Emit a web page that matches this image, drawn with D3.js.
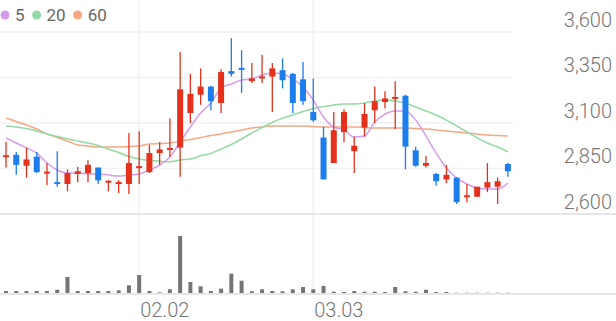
<!DOCTYPE html>
<html>
<head>
<meta charset="utf-8">
<script src="https://cdn.jsdelivr.net/npm/d3@7"></script>
<style>
  html, body { margin: 0; padding: 0; background: #fff; }
  svg { display: block; font-family: Roboto, 'Noto Sans', sans-serif; }
</style>
</head>
<body>
<div class="graph"></div>
<script>
const opens  = [2915, 2925, 2865, 2915, 2825, 2775, 2765, 2820, 2825, 2855, 2775, 2765, 2765, 2855, 2830, 2935, 2955, 2965, 3155, 3255, 3300, 3210, 3385, 3400, 3330, 3345, 3355, 3390, 3370, 3340, 3160, 3020, 2880, 3050, 2945, 3075, 3170, 3215, 3235, 3250, 2950, 2865, 2820, 2790, 2800, 2695, 2695, 2745, 2750, 2875];
const highs  = [2995, 2940, 2965, 2940, 2880, 2945, 2845, 2860, 2895, 2855, 2785, 2785, 3045, 3055, 2980, 2995, 3125, 3490, 3370, 3400, 3305, 3395, 3565, 3500, 3430, 3475, 3430, 3455, 3375, 3435, 3345, 3080, 3160, 3175, 3025, 3210, 3300, 3275, 3330, 3255, 2970, 2920, 2825, 2870, 2800, 2765, 2750, 2880, 2800, 2880];
const lows   = [2855, 2815, 2800, 2825, 2760, 2750, 2725, 2775, 2775, 2765, 2725, 2715, 2710, 2765, 2825, 2870, 2915, 2805, 3100, 3200, 3170, 3155, 3355, 3265, 3320, 3320, 3160, 3290, 3155, 3200, 3105, 2790, 2880, 2995, 2825, 3025, 3100, 3180, 3065, 2845, 2860, 2855, 2755, 2770, 2655, 2665, 2695, 2720, 2655, 2805];
const closes = [2920, 2870, 2900, 2830, 2830, 2765, 2825, 2835, 2870, 2785, 2780, 2775, 2880, 2860, 2935, 2955, 2960, 3285, 3260, 3300, 3220, 3380, 3370, 3395, 3345, 3355, 3400, 3335, 3210, 3220, 3115, 2790, 3060, 3160, 2975, 3150, 3220, 3235, 3240, 2970, 2865, 2880, 2780, 2815, 2665, 2700, 2750, 2775, 2780, 2835];
const volumes = [20000, 20000, 20000, 20000, 20000, 33000, 160000, 20000, 20000, 20000, 20000, 27000, 77000, 180000, 20000, 7000, 37000, 570000, 110000, 67000, 20000, 43000, 193000, 123000, 17000, 37000, 20000, 17000, 37000, 60000, 37000, 70000, 13000, 10000, 20000, 13000, 13000, 10000, 60000, 17000, 13000, 33000, 10000, 10000, 3000, 3000, 3000, 3000, 3000, 3000];

const ma5  = [3018, 2990, 2963, 2935, 2880, 2842, 2825, 2825, 2820, 2820, 2814, 2809, 2814, 2820, 2842, 2869, 2913, 2996, 3078, 3155, 3210, 3292, 3314, 3336, 3342, 3364, 3375, 3369, 3342, 3298, 3226, 3133, 3078, 3062, 3023, 3029, 3105, 3149, 3166, 3166, 3116, 3029, 2935, 2853, 2798, 2765, 2743, 2737, 2737, 2770];
const ma20 = [3084, 3078, 3070, 3056, 3040, 3026, 3012, 3001, 2990, 2976, 2957, 2938, 2916, 2902, 2894, 2890, 2887, 2897, 2902, 2920, 2933, 2957, 2982, 3012, 3045, 3075, 3103, 3127, 3144, 3163, 3180, 3190, 3199, 3204, 3204, 3210, 3221, 3226, 3221, 3210, 3188, 3166, 3144, 3116, 3084, 3051, 3018, 2990, 2968, 2941];
const ma60 = [3127, 3108, 3089, 3067, 3040, 3020, 3001, 2979, 2974, 2968, 2968, 2968, 2971, 2974, 2985, 2987, 2990, 3001, 3009, 3020, 3031, 3040, 3051, 3062, 3073, 3078, 3084, 3084, 3084, 3084, 3081, 3078, 3078, 3078, 3078, 3075, 3073, 3073, 3073, 3073, 3070, 3067, 3062, 3056, 3051, 3045, 3040, 3034, 3031, 3029];

const priceTicks = [2600, 2850, 3100, 3350, 3600];
const dateTicks = [{ index: 13, label: '02.02' }, { index: 30, label: '03.03' }];
const legendItems = [{ label: '5', key: 'ma5' }, { label: '20', key: 'ma20' }, { label: '60', key: 'ma60' }];

const width = 616;
const height = 321;
const plotRight = 513;

const color = {
  up: '#e5311c',
  down: '#1c7ded',
  ma5: '#d69cec',
  ma20: '#93d9a3',
  ma60: '#f6a882',
  grid: '#f1f1f1',
  axis: '#e6e6e6',
  volume: '#757575',
  text: '#777',
};

const data = opens.map((o, i) => ({
  i, open: o, high: highs[i], low: lows[i], close: closes[i], volume: volumes[i],
}));

const x = d3.scaleBand()
  .domain(data.map(d => d.i))
  .range([0.9, plotRight]);
const cx = i => x(i) + x.bandwidth() / 2;

const y = d3.scaleLinear()
  .domain([2600, 3600])
  .range([214, 32]);

const yVol = d3.scaleLinear()
  .domain([0, 710000])
  .range([293, 222]);

const svg = d3.select('.graph')
  .append('svg')
    .attr('width', width)
    .attr('height', height)
    .attr('viewBox', [0, 0, width, height]);

// grid
svg.append('g')
  .selectAll('line')
  .data(priceTicks.filter(t => t !== 2600))
  .join('line')
    .attr('x1', 0)
    .attr('x2', plotRight)
    .attr('y1', d => y(d))
    .attr('y2', d => y(d))
    .attr('stroke', color.grid)
    .attr('stroke-width', 1.5);

svg.append('g')
  .selectAll('line')
  .data(dateTicks)
  .join('line')
    .attr('x1', d => cx(d.index))
    .attr('x2', d => cx(d.index))
    .attr('y1', 0)
    .attr('y2', yVol(0))
    .attr('stroke', color.grid)
    .attr('stroke-width', 1.5);

svg.append('line')
  .attr('x1', 0).attr('x2', width)
  .attr('y1', y(2600)).attr('y2', y(2600))
  .attr('stroke', color.axis)
  .attr('stroke-width', 2);

svg.append('line')
  .attr('x1', 0).attr('x2', width)
  .attr('y1', yVol(0) + 1).attr('y2', yVol(0) + 1)
  .attr('stroke', color.axis)
  .attr('stroke-width', 2);

// moving averages
const line = d3.line()
  .x((d, i) => cx(i))
  .y(d => y(d))
  .curve(d3.curveMonotoneX);

[['ma60', ma60], ['ma20', ma20], ['ma5', ma5]].forEach(([key, values]) => {
  svg.append('path')
    .attr('d', line(values))
    .attr('fill', 'none')
    .attr('stroke', color[key])
    .attr('stroke-width', 1.5);
});

// candles
const candle = svg.append('g')
  .selectAll('g')
  .data(data)
  .join('g')
    .attr('fill', d => d.close >= d.open ? color.up : color.down)
    .attr('stroke', d => d.close >= d.open ? color.up : color.down);

candle.append('line')
  .attr('x1', d => cx(d.i))
  .attr('x2', d => cx(d.i))
  .attr('y1', d => y(d.high))
  .attr('y2', d => y(d.low))
  .attr('stroke-width', 1.3);

candle.append('rect')
  .attr('stroke', 'none')
  .attr('x', d => cx(d.i) - 3)
  .attr('width', 6)
  .attr('y', d => {
    const top = y(Math.max(d.open, d.close));
    const h = Math.abs(y(d.open) - y(d.close));
    return h < 2 ? top - (2 - h) / 2 : top;
  })
  .attr('height', d => Math.max(2, Math.abs(y(d.open) - y(d.close))));

// volume
svg.append('g')
  .selectAll('rect')
  .data(data)
  .join('rect')
    .attr('x', d => cx(d.i) - 2)
    .attr('width', 4)
    .attr('y', d => yVol(d.volume))
    .attr('height', d => yVol(0) - yVol(d.volume))
    .attr('fill', color.volume);

// price axis
const yAxis = svg.append('g')
  .attr('transform', `translate(${width - 4}, 0)`)
  .call(d3.axisLeft(y)
    .tickValues(priceTicks)
    .tickFormat(d3.format(','))
    .tickSize(0)
    .tickPadding(0));

yAxis.select('.domain').remove();
yAxis.selectAll('text')
  .attr('dy', -6)
  .attr('fill', color.text)
  .attr('font-size', 20)
  .attr('font-weight', 300)
  .attr('font-family', 'Roboto, sans-serif');

// date labels
svg.append('g')
  .selectAll('text')
  .data(dateTicks)
  .join('text')
    .attr('x', d => cx(d.index) + 1)
    .attr('y', 317)
    .attr('fill', color.text)
    .attr('font-size', 20)
    .attr('font-weight', 300)
    .text(d => d.label);

// legend
let lx = 5;
const legend = svg.append('g');
legendItems.forEach(item => {
  legend.append('circle')
    .attr('cx', lx)
    .attr('cy', 15)
    .attr('r', 4.5)
    .attr('fill', color[item.key]);
  const t = legend.append('text')
    .attr('x', lx + 10)
    .attr('y', 21)
    .attr('fill', '#666')
    .attr('font-size', 17)
    .text(item.label);
  lx += 10 + t.node().getComputedTextLength() + 12;
});
</script>
</body>
</html>
